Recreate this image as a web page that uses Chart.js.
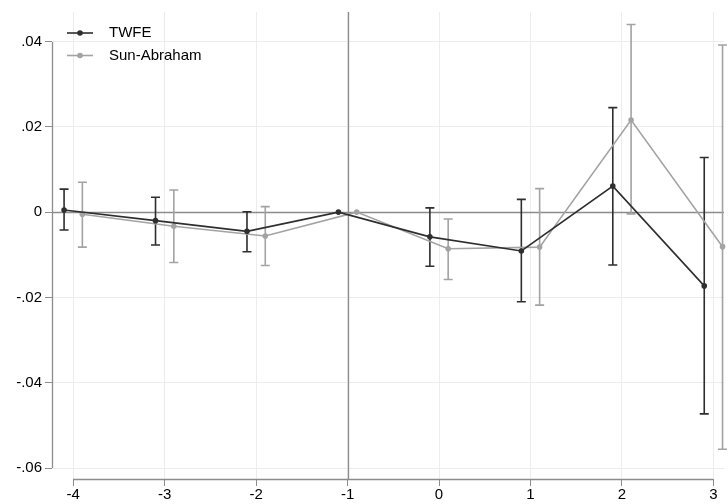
<!DOCTYPE html>
<html>
<head>
<meta charset="utf-8">
<script src="https://cdn.jsdelivr.net/npm/chart.js@4"></script>
<style>
html,body{margin:0;padding:0;background:#fff;}
#c{display:block;}
</style>
</head>
<body>
<canvas id="c" width="728" height="504"></canvas>
<script>
// ---- data ----
const periods = [-4, -3, -2, -1, 0, 1, 2, 3];
const seriesNames = ["TWFE", "Sun-Abraham"];
const twfeCoef = [0.0005, -0.0020, -0.0045, 0, -0.0058, -0.0091, 0.0061, -0.0173];
const twfeLo   = [-0.0042, -0.0077, -0.0093, null, -0.0127, -0.0210, -0.0124, -0.0473];
const twfeHi   = [0.0054, 0.0035, 0.0001, null, 0.0010, 0.0030, 0.0245, 0.0128];
const saCoef   = [-0.0005, -0.0033, -0.0056, 0, -0.0086, -0.0082, 0.0216, -0.0081];
const saLo     = [-0.0082, -0.0118, -0.0125, null, -0.0158, -0.0218, -0.0004, -0.0556];
const saHi     = [0.0070, 0.0052, 0.0013, null, -0.0016, 0.0055, 0.0440, 0.0392];
const xTickValues = [-4, -3, -2, -1, 0, 1, 2, 3];
const yTickValues = [-0.06, -0.04, -0.02, 0, 0.02, 0.04];
const yTickLabels = ["-.06", "-.04", "-.02", "0", ".02", ".04"];
const refX = -1;
const refY = 0;
const shift = 0.1;

const darkCol = '#2e2e2e';
const grayCol = '#a3a3a3';
const axisCol = '#8c8c8c';
const FONT = '"Liberation Sans", Arial, sans-serif';

function pts(coef, off) {
  return periods.map((p, i) => ({x: p + off, y: coef[i]}));
}

const errorBars = {
  id: 'errorBars',
  beforeDatasetsDraw(chart) {
    const {ctx, chartArea: a, scales: {x, y}} = chart;
    ctx.save();
    // reference lines
    ctx.strokeStyle = axisCol;
    ctx.lineWidth = 1.3;
    const y0 = Math.round(y.getPixelForValue(refY)) + 0.5;
    ctx.beginPath(); ctx.moveTo(a.left, y0); ctx.lineTo(a.right, y0); ctx.stroke();
    const x0 = Math.round(x.getPixelForValue(refX)) + 0.5;
    ctx.beginPath(); ctx.moveTo(x0, a.top); ctx.lineTo(x0, a.bottom); ctx.stroke();
    // axis lines spanning tick range
    ctx.lineWidth = 1.3;
    const xl = Math.round(x.getPixelForValue(xTickValues[0]));
    const xr = Math.round(x.getPixelForValue(xTickValues[xTickValues.length - 1]));
    ctx.beginPath(); ctx.moveTo(xl, a.bottom + 0.5); ctx.lineTo(xr, a.bottom + 0.5); ctx.stroke();
    const yt = Math.round(y.getPixelForValue(yTickValues[yTickValues.length - 1]));
    const yb = Math.round(y.getPixelForValue(yTickValues[0]));
    ctx.beginPath(); ctx.moveTo(a.left + 0.5, yt); ctx.lineTo(a.left + 0.5, yb); ctx.stroke();
    // error bars
    const sets = [
      {lo: twfeLo, hi: twfeHi, off: -shift, col: darkCol},
      {lo: saLo, hi: saHi, off: shift, col: grayCol}
    ];
    sets.forEach(s => {
      ctx.strokeStyle = s.col;
      ctx.lineWidth = 1.6;
      periods.forEach((p, i) => {
        if (s.lo[i] === null || s.hi[i] === null) return;
        const px = x.getPixelForValue(p + s.off);
        const pl = y.getPixelForValue(s.lo[i]);
        const ph = y.getPixelForValue(s.hi[i]);
        ctx.beginPath();
        ctx.moveTo(px, pl); ctx.lineTo(px, ph);
        ctx.moveTo(px - 4.5, pl); ctx.lineTo(px + 4.5, pl);
        ctx.moveTo(px - 4.5, ph); ctx.lineTo(px + 4.5, ph);
        ctx.stroke();
      });
    });
    ctx.restore();
  },
  afterDraw(chart) {
    const {ctx} = chart;
    ctx.save();
    const items = [
      {label: chart.data.datasets[0].label, col: darkCol, y: 33},
      {label: chart.data.datasets[1].label, col: grayCol, y: 55.5}
    ];
    items.forEach(it => {
      ctx.strokeStyle = it.col;
      ctx.fillStyle = it.col;
      ctx.lineWidth = 1.6;
      ctx.beginPath(); ctx.moveTo(67, it.y); ctx.lineTo(93, it.y); ctx.stroke();
      ctx.beginPath(); ctx.arc(80, it.y, 2.8, 0, Math.PI * 2); ctx.fill();
      ctx.fillStyle = '#000';
      ctx.font = '15px ' + FONT;
      ctx.textBaseline = 'middle';
      ctx.textAlign = 'left';
      ctx.fillText(it.label, 109, it.y);
    });
    ctx.restore();
  }
};

new Chart(document.getElementById('c'), {
  type: 'line',
  data: {
    datasets: [
      {
        label: seriesNames[0],
        data: pts(twfeCoef, -shift),
        borderColor: darkCol,
        backgroundColor: darkCol,
        borderWidth: 1.6,
        pointRadius: 2.8,
        pointBorderWidth: 0,
        tension: 0,
        clip: false
      },
      {
        label: seriesNames[1],
        data: pts(saCoef, shift),
        borderColor: grayCol,
        backgroundColor: grayCol,
        borderWidth: 1.6,
        pointRadius: 2.8,
        pointBorderWidth: 0,
        tension: 0,
        clip: false
      }
    ]
  },
  options: {
    responsive: false,
    animation: false,
    events: [],
    layout: {padding: {top: 10, right: 0, left: 0, bottom: 0}},
    plugins: {legend: {display: false}, tooltip: {enabled: false}},
    scales: {
      x: {
        type: 'linear',
        min: -4.232,
        max: 3.116,
        afterBuildTicks: s => { s.ticks = xTickValues.map(v => ({value: v})); },
        afterFit: s => { s.height = 25; },
        border: {display: false},
        grid: {color: '#ececec', lineWidth: 1, tickColor: axisCol, tickLength: 7, drawTicks: true},
        ticks: {
          color: '#000',
          font: {family: FONT, size: 15},
          padding: 0,
          maxRotation: 0,
          callback: v => String(v)
        }
      },
      y: {
        type: 'linear',
        min: -0.06257,
        max: 0.04692,
        afterBuildTicks: s => { s.ticks = yTickValues.map(v => ({value: v})); },
        afterFit: s => { s.width = 52; },
        border: {display: false},
        grid: {color: '#ececec', lineWidth: 1, tickColor: axisCol, tickLength: 7, drawTicks: true},
        ticks: {
          color: '#000',
          font: {family: FONT, size: 15},
          padding: 3,
          callback: (v) => {
            const i = yTickValues.findIndex(t => Math.abs(t - v) < 1e-9);
            return i >= 0 ? yTickLabels[i] : '';
          }
        }
      }
    }
  },
  plugins: [errorBars]
});
</script>
</body>
</html>
